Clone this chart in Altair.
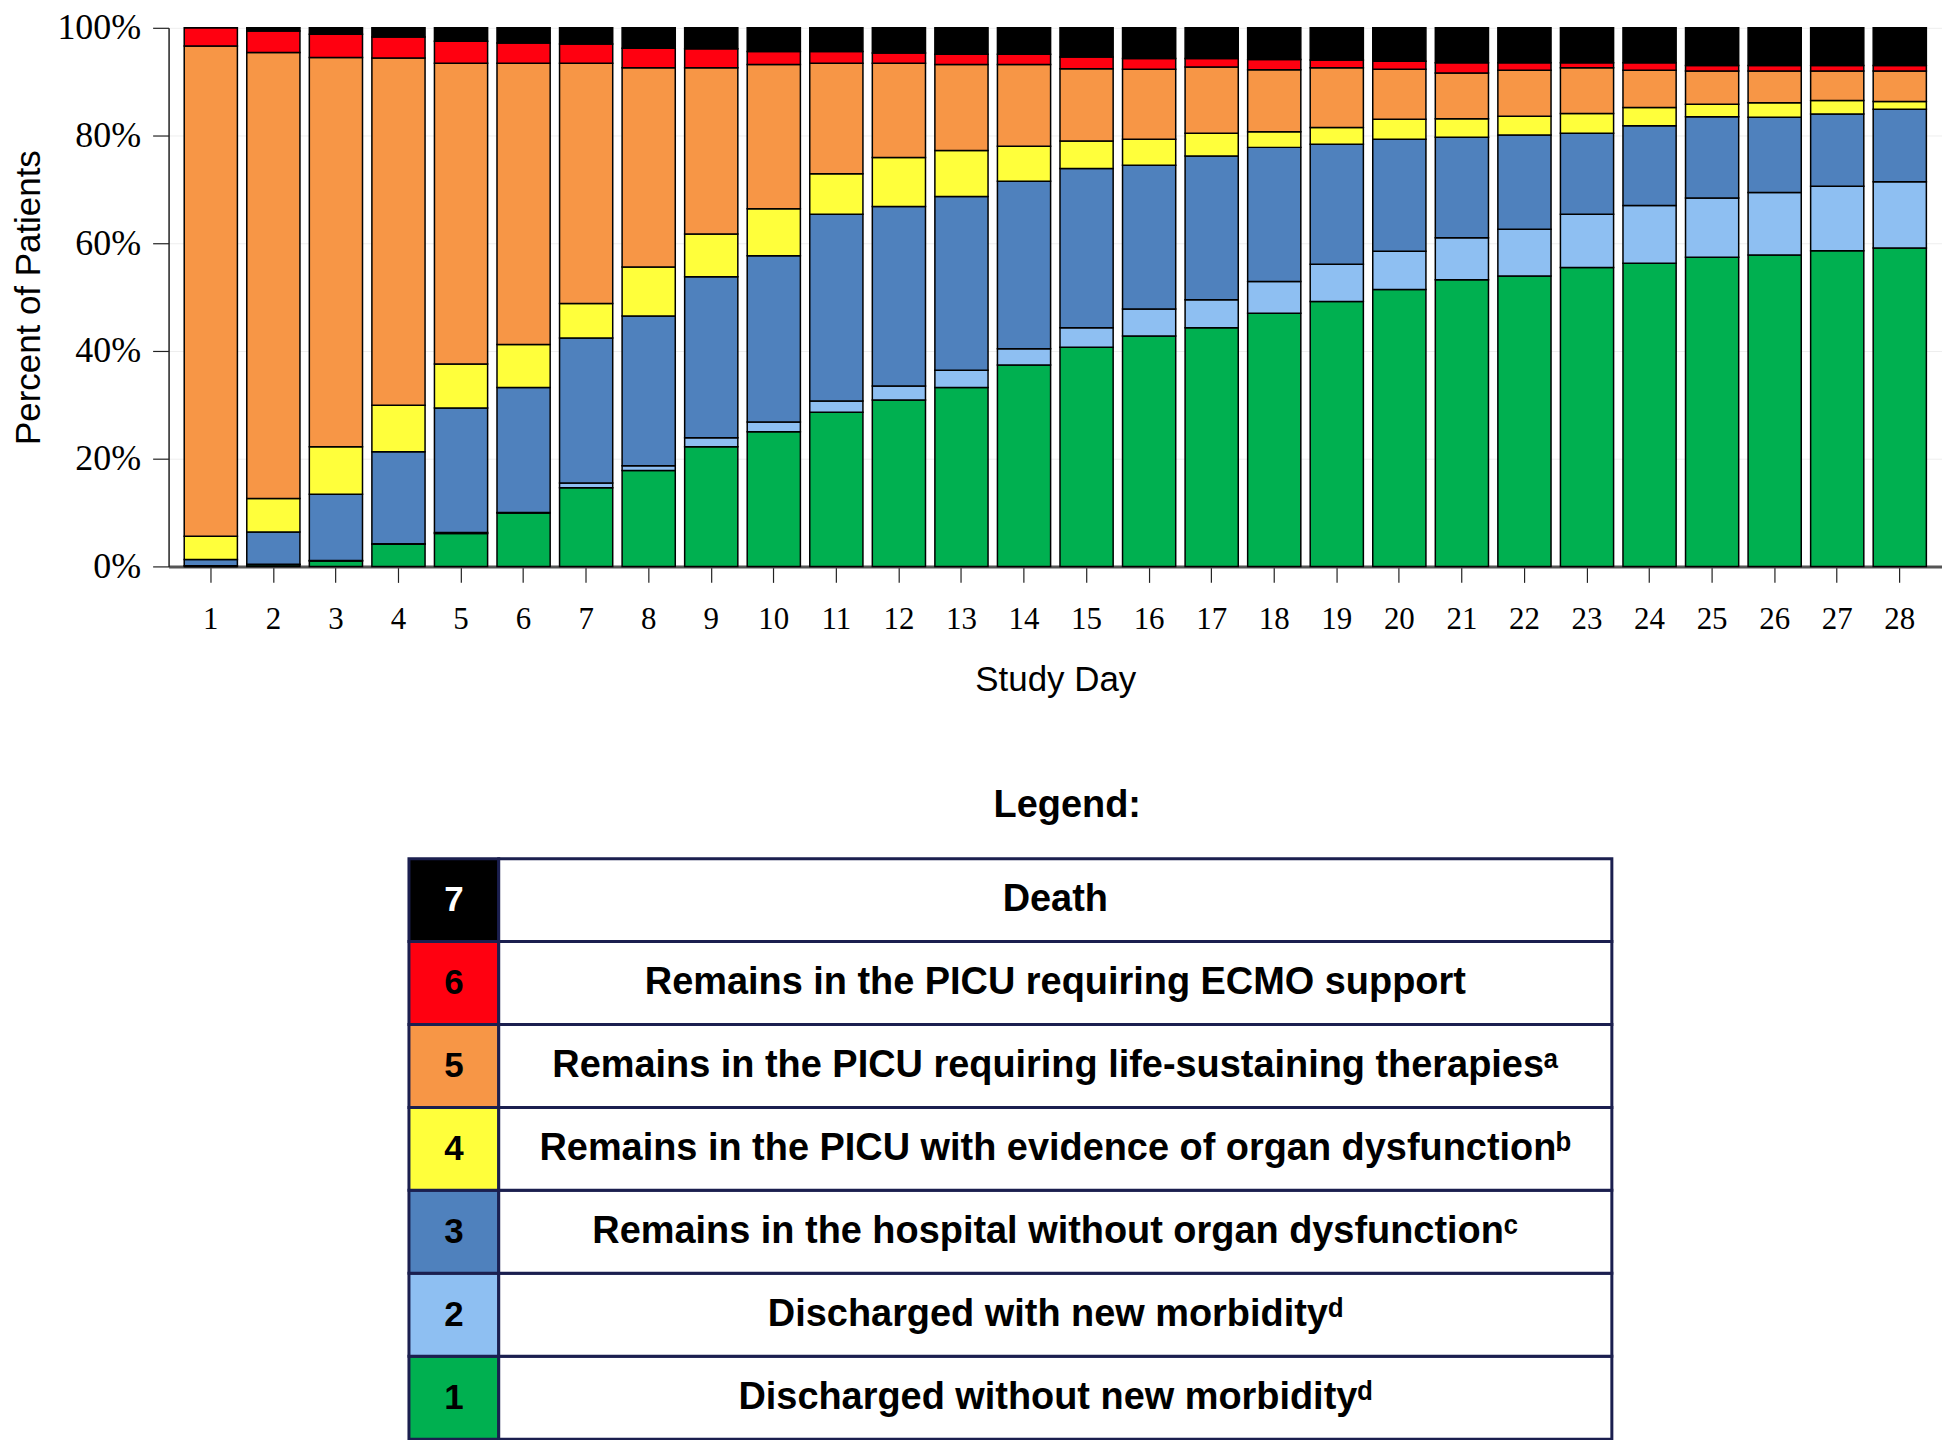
import altair as alt
import pandas as pd

days = list(range(1, 29))

levels = [1, 2, 3, 4, 5, 6, 7]
categories = [
    "Discharged without new morbidity",
    "Discharged with new morbidity",
    "Remains in the hospital without organ dysfunction",
    "Remains in the PICU with evidence of organ dysfunction",
    "Remains in the PICU requiring life-sustaining therapies",
    "Remains in the PICU requiring ECMO support",
    "Death",
]
legend_labels = [
    "Discharged without new morbidity\u1d48",
    "Discharged with new morbidity\u1d48",
    "Remains in the hospital without organ dysfunction\u1d9c",
    "Remains in the PICU with evidence of organ dysfunction\u1d47",
    "Remains in the PICU requiring life-sustaining therapies\u1d43",
    "Remains in the PICU requiring ECMO support",
    "Death",
]
colors = ["#00B050", "#8EBFF2", "#4F81BD", "#FFFF3B", "#F79646", "#FF0010", "#000000"]

# cumulative top (percent of patients) of each outcome level
top_1 = [0.0, 0.3, 1.0, 4.1, 6.1, 9.9, 14.6, 17.8, 22.2, 25.0, 28.6, 30.9, 33.2, 37.4,
         40.7, 42.8, 44.3, 47.0, 49.2, 51.4, 53.2, 53.9, 55.5, 56.3, 57.4, 57.8, 58.6, 59.1]
top_2 = [0.1, 0.4, 1.1, 4.2, 6.3, 10.0, 15.5, 18.7, 23.9, 26.8, 30.7, 33.5, 36.4, 40.4,
         44.3, 47.8, 49.5, 52.9, 56.1, 58.5, 61.0, 62.6, 65.4, 67.0, 68.4, 69.4, 70.6, 71.4]
top_3 = [1.3, 6.4, 13.4, 21.3, 29.4, 33.2, 42.4, 46.5, 53.8, 57.7, 65.4, 66.8, 68.7, 71.5,
         73.9, 74.5, 76.2, 77.8, 78.4, 79.3, 79.7, 80.1, 80.4, 81.8, 83.5, 83.4, 84.0, 84.9]
top_4 = [5.6, 12.6, 22.2, 29.9, 37.6, 41.2, 48.8, 55.6, 61.7, 66.4, 72.9, 75.9, 77.2, 78.0,
         79.0, 79.3, 80.4, 80.7, 81.5, 83.0, 83.1, 83.6, 84.1, 85.2, 85.8, 86.1, 86.5, 86.3]
top_5 = [96.6, 95.4, 94.5, 94.4, 93.4, 93.4, 93.4, 92.6, 92.6, 93.2, 93.4, 93.4, 93.2, 93.2,
         92.4, 92.3, 92.7, 92.2, 92.6, 92.3, 91.6, 92.1, 92.6, 92.1, 92.0, 92.0, 92.0, 92.0]
top_6 = [100.0, 99.4, 98.8, 98.3, 97.5, 97.2, 97.0, 96.2, 96.1, 95.6, 95.6, 95.3, 95.1, 95.1,
         94.6, 94.3, 94.3, 94.1, 94.0, 93.8, 93.5, 93.5, 93.5, 93.5, 93.0, 93.0, 93.0, 93.0]
top_7 = [100, 100, 100, 100, 100, 100, 100, 100, 100, 100, 100, 100, 100, 100,
         100, 100, 100, 100, 100, 100, 100, 100, 100, 100, 100, 100, 100, 100]

tops = [top_1, top_2, top_3, top_4, top_5, top_6, top_7]

rows = []
for i, d in enumerate(days):
    prev = 0.0
    for k, cat in enumerate(categories):
        t = tops[k][i]
        rows.append({"day": d, "category": cat, "level": levels[k], "bottom": prev, "top": t})
        prev = t
df = pd.DataFrame(rows)

color_scale = alt.Scale(domain=categories, range=colors)

bars = alt.Chart(df).mark_bar(stroke="black", strokeWidth=1.5).encode(
    x=alt.X(
        "day:O",
        scale=alt.Scale(paddingInner=0.15, paddingOuter=0.25),
        axis=alt.Axis(
            title="Study Day",
            labelAngle=0,
            labelFont="Liberation Serif",
            labelFontSize=31,
            labelColor="black",
            labelPadding=22,
            tickSize=16,
            tickColor="#222222",
            tickWidth=1.2,
            domainColor="#555555",
            domainWidth=3,
            titleFont="Liberation Sans",
            titleFontSize=35,
            titleFontWeight="normal",
            titleColor="black",
            titlePadding=28,
        ),
    ),
    y=alt.Y(
        "bottom:Q",
        scale=alt.Scale(domain=[0, 100], nice=False),
        axis=alt.Axis(
            title="Percent of Patients",
            values=[0, 20, 40, 60, 80, 100],
            labelExpr="datum.value + '%'",
            labelFont="Liberation Serif",
            labelFontSize=36,
            labelColor="black",
            labelPadding=12,
            tickSize=16,
            tickColor="#222222",
            tickWidth=1.2,
            domainColor="#222222",
            domainWidth=1.5,
            grid=True,
            gridColor="#eeeeee",
            titleFont="Liberation Sans",
            titleFontSize=35,
            titleFontWeight="normal",
            titleColor="black",
            titlePadding=10,
        ),
    ),
    y2="top:Q",
    color=alt.Color("category:N", scale=color_scale, legend=None),
).properties(width=1778, height=540)

leg_df = pd.DataFrame({"level": levels, "category": categories, "label": legend_labels})
navy = "#1b1f4f"
ybase = alt.Y("level:O", sort="descending", scale=alt.Scale(paddingInner=0, paddingOuter=0), axis=None)
base = alt.Chart(leg_df).encode(y=ybase)

swatch = base.mark_rect(stroke=navy, strokeWidth=3).encode(
    x=alt.value(241), x2=alt.value(331),
    color=alt.Color("category:N", scale=color_scale, legend=None),
)
cell = base.mark_rect(fill="white", stroke=navy, strokeWidth=3).encode(
    x=alt.value(331), x2=alt.value(1447),
)
num = base.mark_text(font="Liberation Sans", fontSize=35, fontWeight="bold").encode(
    x=alt.value(286),
    text="level:N",
    color=alt.condition(alt.datum.level == 7, alt.value("white"), alt.value("black")),
)
lab = base.mark_text(font="Liberation Sans", fontSize=38, fontWeight="bold", color="black").encode(
    x=alt.value(889),
    text="label:N",
)

legend_chart = alt.layer(swatch, cell, num, lab).properties(
    width=1452,
    height=582,
    title=alt.TitleParams(
        "Legend:", anchor="start", align="center", dx=901,
        font="Liberation Sans", fontSize=38, fontWeight="bold", color="black", offset=32,
    ),
)

chart = alt.vconcat(bars, legend_chart, spacing=90).properties(
    padding={"left": 4, "top": 0, "right": 0, "bottom": 0}
).configure_view(stroke=None).configure_axis(labelColor="black")

chart.save("out.html", embed_options={"renderer": "svg", "actions": False})
